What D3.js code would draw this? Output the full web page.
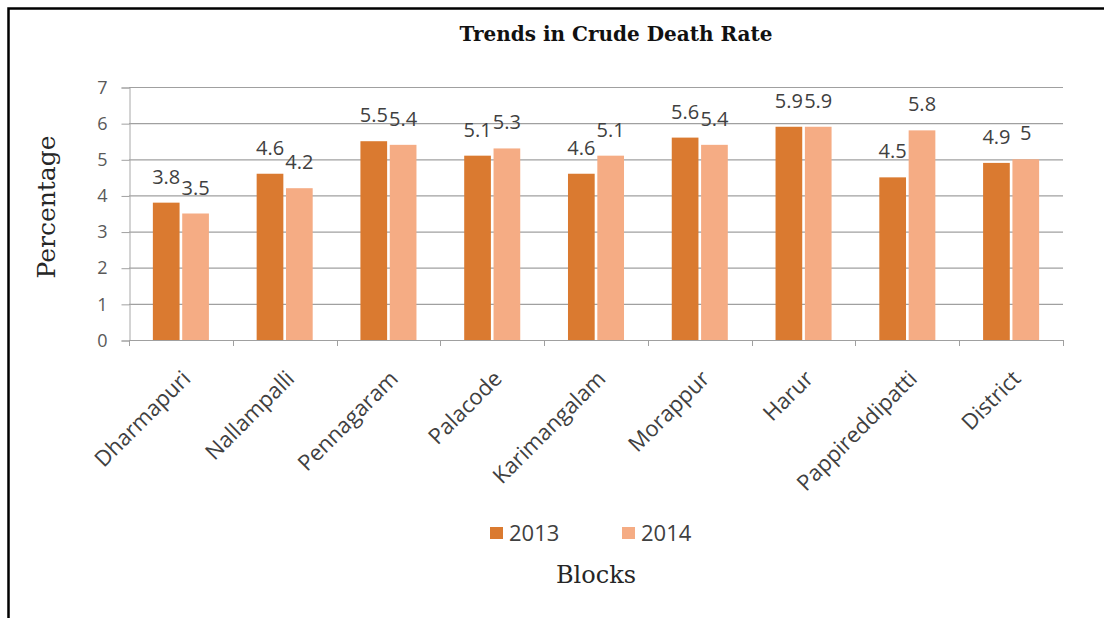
<!DOCTYPE html>
<html>
<head>
<meta charset="utf-8">
<script src="https://cdn.jsdelivr.net/npm/d3@7"></script>
<style>
  html, body { margin: 0; padding: 0; background: #fff; }
  svg { display: block; }
</style>
</head>
<body>
<svg id="chart" width="1104" height="618"></svg>
<script>
// Crude death rate by block, 2013 vs 2014
const categories = ["Dharmapuri", "Nallampalli", "Pennagaram", "Palacode", "Karimangalam",
                    "Morappur", "Harur", "Pappireddipatti", "District"];
const values2013 = [3.8, 4.6, 5.5, 5.1, 4.6, 5.6, 5.9, 4.5, 4.9];
const values2014 = [3.5, 4.2, 5.4, 5.3, 5.1, 5.4, 5.9, 5.8, 5];
const seriesNames = ["2013", "2014"];
const seriesColors = ["#DA7A30", "#F5AC84"];
const yTickValues = [0, 1, 2, 3, 4, 5, 6, 7];

const svg = d3.select("#chart");
const W = 1104, H = 618;
const plot = { left: 129, right: 1063, top: 87, bottom: 340 };

svg.append("rect").attr("width", W).attr("height", H).attr("fill", "#fff");

// outer frame (top and left edges)
svg.append("path")
  .attr("d", `M8.5,${H} V8.5 H${W}`)
  .attr("fill", "none").attr("stroke", "#000").attr("stroke-width", 2.5);

const series = seriesNames.map((name, i) => ({
  name, color: seriesColors[i], values: i === 0 ? values2013 : values2014
}));

const x0 = d3.scaleBand().domain(categories)
  .range([plot.left, plot.right]).paddingInner(0.46).paddingOuter(0.23);
const x1 = d3.scaleBand().domain(seriesNames)
  .range([0, x0.bandwidth()]).paddingInner(0.09);
const y = d3.scaleLinear().domain([0, 7]).range([plot.bottom, plot.top]);

// horizontal gridlines
svg.append("g").selectAll("line").data(yTickValues.filter(v => v > 0)).join("line")
  .attr("x1", plot.left).attr("x2", plot.right)
  .attr("y1", d => y(d) + 0.5).attr("y2", d => y(d) + 0.5)
  .attr("stroke", "#a0a0a0").attr("stroke-width", 1.2);

// y axis
const yAxis = d3.axisLeft(y).tickValues(yTickValues).tickSize(8).tickPadding(14)
  .tickFormat(d3.format("d"));
const yg = svg.append("g").attr("transform", `translate(${plot.left + 0.5},0.5)`).call(yAxis);
yg.select(".domain").attr("stroke", "#a8a8a8");
yg.selectAll(".tick line").attr("stroke", "#a0a0a0");
yg.selectAll(".tick text")
  .attr("font-family", "'Open Sans', sans-serif").attr("font-size", 18)
  .attr("fill", "#595959");

// bars
const groups = svg.append("g").selectAll("g").data(categories).join("g")
  .attr("transform", d => `translate(${x0(d)},0)`);

groups.selectAll("rect")
  .data((d, i) => series.map(s => ({ key: s.name, color: s.color, value: s.values[i] })))
  .join("rect")
  .attr("x", d => x1(d.key))
  .attr("width", x1.bandwidth())
  .attr("y", d => y(d.value))
  .attr("height", d => y(0) - y(d.value))
  .attr("fill", d => d.color);

// value labels
groups.selectAll("text.val")
  .data((d, i) => series.map(s => ({ key: s.name, value: s.values[i] })))
  .join("text").attr("class", "val")
  .attr("x", d => x1(d.key) + x1.bandwidth() / 2)
  .attr("y", d => y(d.value) - 19)
  .attr("text-anchor", "middle")
  .attr("font-family", "'Open Sans', sans-serif").attr("font-size", 20)
  .attr("fill", "#404040")
  .text(d => d.value);

// x axis line with category boundary ticks
const step = x0.step();
const boundaries = d3.range(categories.length + 1).map(i => plot.left + i * step);
svg.append("line")
  .attr("x1", plot.left).attr("x2", plot.right)
  .attr("y1", plot.bottom + 0.5).attr("y2", plot.bottom + 0.5)
  .attr("stroke", "#a0a0a0").attr("stroke-width", 1.2);
svg.append("g").selectAll("line").data(boundaries).join("line")
  .attr("x1", d => Math.round(d) + 0.5).attr("x2", d => Math.round(d) + 0.5)
  .attr("y1", plot.bottom).attr("y2", plot.bottom + 6)
  .attr("stroke", "#a0a0a0");

// rotated category labels
svg.append("g").selectAll("text").data(categories).join("text")
  .attr("transform", d => `translate(${x0(d) + x0.bandwidth() / 2 + 11},${plot.bottom + 40}) rotate(-45)`)
  .attr("text-anchor", "end")
  .attr("font-family", "'Open Sans', sans-serif").attr("font-size", 22)
  .attr("fill", "#404040")
  .text(d => d);

// title
svg.append("text")
  .attr("x", 616).attr("y", 41).attr("text-anchor", "middle")
  .attr("font-family", "'DejaVu Serif', serif").attr("font-weight", "bold")
  .attr("font-size", 20).attr("fill", "#111")
  .text("Trends in Crude Death Rate");

// y axis title
svg.append("text")
  .attr("transform", "translate(55,207) rotate(-90)")
  .attr("text-anchor", "middle")
  .attr("font-family", "'DejaVu Serif', serif").attr("font-size", 25)
  .attr("fill", "#262626")
  .text("Percentage");

// legend
const legendX = [490, 622];
const legend = svg.append("g").selectAll("g").data(series).join("g")
  .attr("transform", (d, i) => `translate(${legendX[i]},527)`);
legend.append("rect").attr("width", 13).attr("height", 12).attr("fill", d => d.color);
legend.append("text")
  .attr("x", 19).attr("y", 14)
  .attr("font-family", "'Open Sans', sans-serif").attr("font-size", 22)
  .attr("fill", "#404040")
  .text(d => d.name);

// x axis title
svg.append("text")
  .attr("x", 596).attr("y", 583).attr("text-anchor", "middle")
  .attr("font-family", "'DejaVu Serif', serif").attr("font-size", 24)
  .attr("fill", "#262626")
  .text("Blocks");
</script>
</body>
</html>
